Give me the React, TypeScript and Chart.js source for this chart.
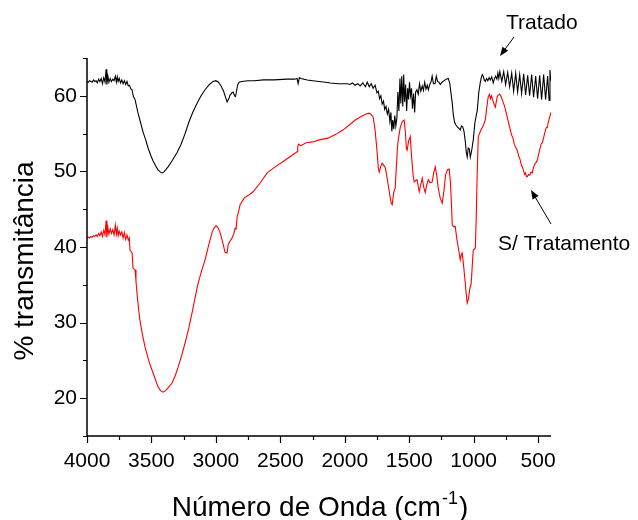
import React, { useEffect, useRef } from "react";
import { Chart, registerables } from "chart.js";

Chart.register(...registerables);

const FONT = '"Liberation Sans", Arial, Helvetica, sans-serif';

// Axis ticks
const xTickValues = [4000, 3500, 3000, 2500, 2000, 1500, 1000, 500];
const xMinorValues = [3750, 3250, 2750, 2250, 1750, 1250, 750];
const yTickValues = [20, 30, 40, 50, 60];
const yMinorValues = [15, 25, 35, 45, 55, 65];

// Labels
const xTitle = "Número de Onda (cm";
const xTitleSup = "-1";
const xTitleEnd = ")";
const yTitle = "% transmitância";
const seriesNames = ["Tratado", "S/ Tratamento"];

// Spectrum "Tratado" : [wavenumber (cm-1), % transmitância]
const tratado: [number, number][] = [
  [4000, 61.9], [3990, 61.8], [3980, 62.0], [3970, 61.9], [3960, 61.8], [3950, 62.1],
  [3940, 61.9], [3930, 62.0], [3920, 61.7], [3910, 62.2], [3900, 61.9], [3890, 62.3],
  [3880, 61.6], [3870, 62.4], [3860, 61.8], [3852, 63.5], [3846, 61.5], [3838, 62.6],
  [3830, 61.8], [3820, 62.3], [3810, 61.9], [3800, 62.2], [3790, 62.0], [3780, 62.6],
  [3772, 61.8], [3765, 62.5], [3758, 61.9], [3750, 62.3], [3740, 61.7], [3730, 62.1],
  [3720, 61.6], [3710, 62.0], [3700, 61.5], [3690, 61.9], [3680, 61.3], [3670, 61.4],
  [3660, 60.9], [3651, 60.8], [3640, 59.9], [3627, 59.5], [3604, 57.7], [3585, 56.5],
  [3565, 55.2], [3545, 54.2], [3526, 53.1], [3505, 52.1], [3488, 51.4], [3470, 50.8],
  [3449, 50.2], [3430, 49.9], [3418, 49.8], [3405, 49.9], [3390, 50.2], [3371, 50.6],
  [3340, 51.4], [3301, 52.5], [3270, 53.6], [3239, 55.0], [3210, 56.5], [3180, 57.8],
  [3146, 59.0], [3115, 60.0], [3084, 60.8], [3050, 61.5], [3022, 61.9], [3000, 62.0],
  [2980, 61.8], [2960, 61.3], [2940, 60.6], [2925, 59.8], [2913, 59.2], [2900, 59.6],
  [2890, 60.1], [2875, 60.4], [2866, 60.5], [2855, 60.0], [2848, 59.9], [2840, 60.6],
  [2832, 61.4], [2820, 61.8], [2800, 61.9], [2750, 62.0], [2700, 62.0], [2633, 62.1],
  [2550, 62.1], [2450, 62.2], [2390, 62.2], [2370, 62.3], [2362, 61.6], [2352, 62.4],
  [2339, 62.3], [2292, 62.1], [2250, 62.0], [2200, 61.9], [2150, 61.8], [2113, 61.7],
  [2050, 61.6], [2000, 61.6], [1980, 61.6], [1960, 61.5], [1940, 61.7], [1920, 61.4],
  [1900, 61.6], [1880, 61.3], [1860, 61.7], [1840, 61.2], [1825, 61.8], [1810, 61.2],
  [1795, 61.6], [1780, 61.0], [1765, 61.4], [1750, 60.4], [1740, 60.6], [1730, 59.6],
  [1720, 60.0], [1710, 58.9], [1700, 59.3], [1690, 58.2], [1680, 58.6], [1670, 57.6],
  [1660, 58.2], [1650, 56.6], [1642, 57.8], [1635, 55.3], [1628, 56.8], [1620, 55.6],
  [1612, 57.4], [1604, 56.0], [1596, 57.0], [1588, 60.5], [1580, 58.0], [1572, 62.3],
  [1565, 59.0], [1558, 62.6], [1550, 58.6], [1543, 62.8], [1536, 59.2], [1528, 61.5],
  [1520, 58.0], [1512, 61.0], [1505, 59.5], [1498, 61.8], [1490, 60.0], [1482, 61.0],
  [1475, 58.3], [1466, 60.3], [1458, 57.8], [1450, 60.5], [1440, 60.8], [1430, 60.2],
  [1420, 61.6], [1410, 60.6], [1399, 61.3], [1390, 60.7], [1380, 61.8], [1370, 60.9],
  [1360, 61.4], [1352, 60.8], [1340, 61.5], [1330, 61.9], [1322, 62.6], [1312, 61.6],
  [1300, 61.6], [1290, 62.6], [1280, 61.9], [1270, 61.8], [1259, 61.5], [1245, 61.8],
  [1230, 62.0], [1213, 62.2], [1197, 62.3], [1185, 61.6], [1175, 60.2], [1166, 59.0],
  [1158, 57.5], [1148, 56.5], [1140, 56.2], [1127, 55.9], [1115, 55.7], [1104, 55.5],
  [1095, 56.0], [1085, 55.9], [1075, 55.3], [1065, 54.0], [1057, 52.5], [1050, 51.9],
  [1042, 53.1], [1034, 53.0], [1026, 51.9], [1015, 52.8], [1003, 54.2], [990, 56.5],
  [972, 58.1], [960, 60.5], [949, 61.7], [941, 62.4], [933, 62.8], [926, 62.6],
  [918, 62.1], [910, 61.9], [900, 62.3], [890, 62.0], [880, 62.4], [871, 62.1],
  [860, 62.5], [848, 61.7], [840, 62.2], [830, 62.6], [820, 62.2], [812, 63.0],
  [805, 62.3], [797, 63.2], [782, 61.9], [767, 63.2], [752, 61.5], [736, 63.1],
  [721, 61.2], [705, 63.0], [690, 60.6], [674, 63.0], [659, 60.5], [643, 62.8],
  [628, 60.3], [612, 62.9], [597, 60.1], [581, 62.7], [566, 60.0], [550, 62.8],
  [535, 59.8], [519, 62.6], [504, 59.6], [488, 62.7], [473, 59.5], [457, 62.8],
  [442, 59.5], [426, 62.6], [415, 59.4], [408, 63.4], [403, 62.2], [400, 62.4],
];

// Spectrum "S/ Tratamento" : [wavenumber (cm-1), % transmitância]
const semTratamento: [number, number][] = [
  [4000, 41.2], [3990, 41.3], [3980, 41.2], [3970, 41.4], [3960, 41.3], [3950, 41.5],
  [3940, 41.4], [3930, 41.6], [3920, 41.4], [3910, 41.8], [3900, 41.5], [3890, 42.0],
  [3880, 41.4], [3870, 42.2], [3860, 41.6], [3852, 43.5], [3846, 41.3], [3838, 42.6],
  [3830, 41.7], [3820, 42.4], [3810, 41.8], [3800, 42.3], [3790, 41.6], [3780, 42.9],
  [3772, 41.7], [3765, 42.5], [3758, 41.5], [3750, 42.1], [3740, 41.6], [3730, 42.0],
  [3720, 41.2], [3710, 41.9], [3700, 41.0], [3690, 41.6], [3680, 40.9], [3672, 41.2],
  [3666, 39.6], [3658, 39.4], [3650, 39.2], [3643, 37.2], [3635, 37.1], [3627, 37.0],
  [3620, 35.5], [3612, 33.9], [3600, 31.8], [3589, 30.3], [3570, 28.4], [3550, 26.8],
  [3520, 24.9], [3495, 23.7], [3470, 22.5], [3449, 21.5], [3430, 21.0], [3410, 20.8],
  [3390, 21.0], [3370, 21.4], [3340, 22.0], [3315, 23.0], [3293, 24.1], [3265, 25.7],
  [3239, 27.3], [3210, 29.3], [3185, 31.3], [3160, 33.4], [3138, 35.2], [3110, 36.9],
  [3084, 38.3], [3055, 40.3], [3030, 41.9], [3015, 42.5], [2998, 42.8], [2985, 42.6],
  [2967, 41.9], [2950, 40.8], [2929, 39.3], [2913, 39.2], [2905, 40.3], [2890, 40.8],
  [2874, 41.2], [2860, 41.8], [2851, 42.5], [2843, 42.4], [2835, 44.0], [2825, 44.6],
  [2812, 45.6], [2780, 46.5], [2750, 46.8], [2711, 47.3], [2660, 48.4], [2602, 49.8],
  [2540, 50.6], [2478, 51.3], [2420, 52.0], [2370, 52.6], [2365, 53.2], [2360, 53.6],
  [2340, 53.4], [2300, 53.8], [2250, 53.9], [2191, 54.2], [2129, 54.4], [2070, 54.9],
  [2012, 55.5], [1960, 56.2], [1919, 56.8], [1870, 57.3], [1834, 57.6], [1810, 57.7],
  [1795, 57.5], [1780, 57.2], [1765, 55.5], [1749, 52.5], [1740, 50.5], [1733, 49.9],
  [1722, 50.6], [1710, 51.1], [1698, 50.8], [1686, 50.5], [1675, 49.5], [1663, 48.2],
  [1650, 46.8], [1640, 45.8], [1632, 45.6], [1622, 47.0], [1616, 47.5], [1609, 47.8],
  [1600, 50.5], [1592, 53.0], [1585, 54.2], [1570, 55.8], [1554, 56.6], [1539, 56.8],
  [1530, 55.2], [1522, 53.0], [1516, 52.8], [1505, 54.0], [1492, 54.6], [1482, 52.0],
  [1470, 49.5], [1461, 48.6], [1450, 48.8], [1438, 48.9], [1430, 48.0], [1422, 47.3],
  [1410, 48.3], [1399, 49.1], [1388, 48.0], [1376, 47.2], [1364, 48.2], [1352, 48.9],
  [1338, 48.5], [1322, 48.6], [1310, 49.8], [1298, 50.6], [1287, 49.5], [1275, 47.8],
  [1260, 46.5], [1244, 45.8], [1230, 47.5], [1218, 49.5], [1205, 50.2], [1190, 50.3],
  [1180, 48.5], [1172, 45.5], [1166, 42.9], [1155, 42.7], [1143, 42.7], [1130, 41.0],
  [1115, 39.5], [1104, 38.3], [1096, 39.0], [1089, 39.2], [1078, 37.5], [1065, 35.2],
  [1058, 33.8], [1050, 32.6], [1040, 33.2], [1030, 34.5], [1019, 35.2], [1010, 37.8],
  [1003, 39.6], [995, 39.7], [987, 39.9], [980, 44.0], [972, 50.2], [964, 54.6],
  [955, 55.0], [945, 55.4], [933, 55.8], [922, 56.2], [910, 56.8], [900, 58.2],
  [887, 59.9], [878, 60.2], [870, 59.6], [862, 60.0], [856, 59.7], [850, 59.3],
  [840, 58.8], [832, 58.5], [825, 59.2], [817, 59.9], [809, 60.1], [800, 60.2],
  [793, 60.1], [785, 59.8], [777, 59.4], [770, 59.1], [760, 58.6], [750, 57.9],
  [740, 57.2], [730, 56.5], [716, 55.5], [705, 54.8], [695, 54.4], [685, 53.6],
  [675, 53.2], [662, 52.8], [650, 52.0], [640, 51.6], [630, 50.8], [622, 50.6],
  [615, 50.2], [605, 49.6], [598, 49.8], [590, 49.3], [584, 49.3], [575, 49.6],
  [565, 49.5], [555, 49.9], [545, 49.8], [535, 50.6], [525, 51.0], [516, 51.2],
  [506, 51.5], [497, 52.2], [487, 52.9], [477, 53.6], [467, 53.8], [458, 54.4],
  [450, 55.0], [442, 55.5], [436, 55.8], [429, 55.8], [420, 56.6], [410, 57.2],
  [402, 57.7], [398, 57.8],
];

function arrow(ctx: CanvasRenderingContext2D, x1: number, y1: number, x2: number, y2: number) {
  const ang = Math.atan2(y2 - y1, x2 - x1);
  const hl = 9;
  const hw = 3.5;
  ctx.beginPath();
  ctx.moveTo(x1, y1);
  ctx.lineTo(x2 - Math.cos(ang) * hl * 0.8, y2 - Math.sin(ang) * hl * 0.8);
  ctx.stroke();
  ctx.beginPath();
  ctx.moveTo(x2, y2);
  ctx.lineTo(x2 - Math.cos(ang) * hl + Math.sin(ang) * hw, y2 - Math.sin(ang) * hl - Math.cos(ang) * hw);
  ctx.lineTo(x2 - Math.cos(ang) * hl - Math.sin(ang) * hw, y2 - Math.sin(ang) * hl + Math.cos(ang) * hw);
  ctx.closePath();
  ctx.fill();
}

const decorPlugin = {
  id: "decor",
  afterDraw(chart: any) {
    const ctx: CanvasRenderingContext2D = chart.ctx;
    const { left, right, top, bottom } = chart.chartArea;
    const xs = chart.scales.x;
    const ys = chart.scales.y;
    ctx.save();
    ctx.strokeStyle = "#000";
    ctx.fillStyle = "#000";
    ctx.lineWidth = 1.5;
    ctx.beginPath();
    ctx.moveTo(left, top);
    ctx.lineTo(left, bottom);
    ctx.lineTo(right, bottom);
    ctx.stroke();
    ctx.lineWidth = 1.2;
    ctx.beginPath();
    xTickValues.forEach((v) => {
      const px = Math.round(xs.getPixelForValue(v)) + 0.5;
      ctx.moveTo(px, bottom);
      ctx.lineTo(px, bottom + 7);
    });
    xMinorValues.forEach((v) => {
      const px = Math.round(xs.getPixelForValue(v)) + 0.5;
      ctx.moveTo(px, bottom);
      ctx.lineTo(px, bottom + 4);
    });
    yTickValues.forEach((v) => {
      const py = Math.round(ys.getPixelForValue(v)) + 0.5;
      ctx.moveTo(left, py);
      ctx.lineTo(left - 7, py);
    });
    yMinorValues.forEach((v) => {
      const py = Math.round(ys.getPixelForValue(v)) + 0.5;
      ctx.moveTo(left, py);
      ctx.lineTo(left - 4, py);
    });
    ctx.stroke();

    // x title with superscript
    ctx.textAlign = "left";
    ctx.textBaseline = "alphabetic";
    ctx.font = `28px ${FONT}`;
    const w1 = ctx.measureText(xTitle).width;
    ctx.font = `18px ${FONT}`;
    const w2 = ctx.measureText(xTitleSup).width;
    ctx.font = `28px ${FONT}`;
    const w3 = ctx.measureText(xTitleEnd).width;
    const total = w1 + w2 + w3 + 2;
    let tx = 320 - total / 2;
    ctx.fillText(xTitle, tx, 516);
    tx += w1 + 1;
    ctx.font = `18px ${FONT}`;
    ctx.fillText(xTitleSup, tx, 504);
    tx += w2 + 1;
    ctx.font = `28px ${FONT}`;
    ctx.fillText(xTitleEnd, tx, 516);

    // y title
    ctx.save();
    ctx.translate(33, 261);
    ctx.rotate(-Math.PI / 2);
    ctx.textAlign = "center";
    ctx.font = `28px ${FONT}`;
    ctx.fillText(yTitle, 0, 0);
    ctx.restore();

    // annotations
    ctx.font = `21px ${FONT}`;
    ctx.textAlign = "left";
    ctx.fillText(seriesNames[0], 506, 29);
    ctx.fillText(seriesNames[1], 498, 250);
    ctx.lineWidth = 1;
    arrow(ctx, 514, 37, 500, 56);
    arrow(ctx, 551, 224, 531, 190);
    ctx.restore();
  },
};

export default function App() {
  const canvasRef = useRef<HTMLCanvasElement | null>(null);

  useEffect(() => {
    const canvas = canvasRef.current;
    if (!canvas) return;
    const chart = new Chart(canvas, {
      type: "line",
      data: {
        datasets: [
          {
            label: seriesNames[0],
            data: tratado.map(([x, y]) => ({ x, y })),
            borderColor: "#000000",
            borderWidth: 1.1,
            pointRadius: 0,
            fill: false,
            tension: 0,
          },
          {
            label: seriesNames[1],
            data: semTratamento.map(([x, y]) => ({ x, y })),
            borderColor: "#ff0000",
            borderWidth: 1.1,
            pointRadius: 0,
            fill: false,
            tension: 0,
          },
        ],
      },
      options: {
        animation: false,
        responsive: false,
        devicePixelRatio: 1,
        layout: { padding: { top: 58, right: 87, left: 0, bottom: 0 } },
        plugins: {
          legend: { display: false },
          tooltip: { enabled: false },
          title: { display: false },
        },
        scales: {
          x: {
            type: "linear",
            reverse: true,
            min: 400,
            max: 4000,
            afterBuildTicks: (s: any) => {
              s.ticks = xTickValues.map((v) => ({ value: v }));
            },
            afterFit: (s: any) => {
              s.height = 84;
            },
            grid: { display: false, drawTicks: false },
            border: { display: false },
            ticks: {
              color: "#000",
              font: { family: FONT, size: 21 },
              padding: 13,
              maxRotation: 0,
              minRotation: 0,
              autoSkip: false,
              callback: (v: any) => String(v),
            },
          },
          y: {
            type: "linear",
            min: 15,
            max: 65,
            afterBuildTicks: (s: any) => {
              s.ticks = yTickValues.map((v) => ({ value: v }));
            },
            afterFit: (s: any) => {
              s.width = 87;
            },
            grid: { display: false, drawTicks: false },
            border: { display: false },
            ticks: {
              color: "#000",
              font: { family: FONT, size: 21 },
              padding: 10,
              autoSkip: false,
              callback: (v: any) => String(v),
            },
          },
        },
      },
      plugins: [decorPlugin],
    });
    return () => chart.destroy();
  }, []);

  return (
    <div style={{ position: "absolute", left: 0, top: 0, width: 638, height: 520, background: "#fff" }}>
      <canvas ref={canvasRef} width={638} height={520} style={{ display: "block", width: 638, height: 520 }} />
    </div>
  );
}
